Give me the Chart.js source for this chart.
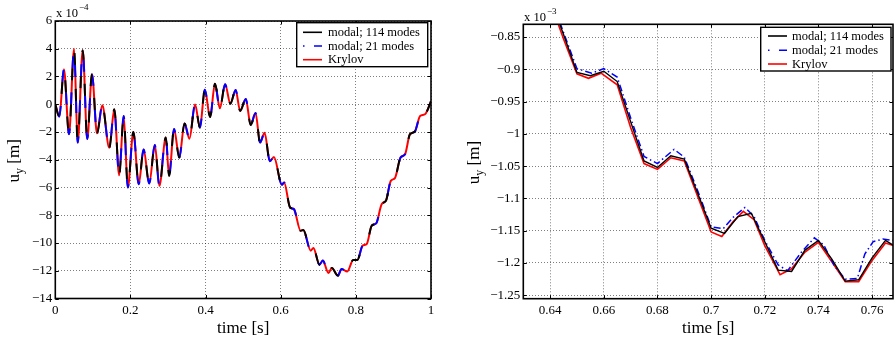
<!DOCTYPE html>
<html><head><meta charset="utf-8">
<script src="https://cdn.jsdelivr.net/npm/chart.js@4/dist/chart.umd.min.js"></script>
<style>
html,body{margin:0;padding:0;background:#fff;}
#wrap{position:relative;width:894px;height:342px;overflow:hidden;background:#fff;}
canvas{position:absolute;top:0;}
</style></head><body>
<div id="wrap">
<canvas id="cl" width="447" height="342" style="left:0px;width:447px;height:342px"></canvas>
<canvas id="cr" width="447" height="342" style="left:447px;width:447px;height:342px"></canvas>
</div>
<script>
// ---------- data (left panel, units of 1e-4 m) ----------
const leftTime = [0,0.0107,0.023,0.0365,0.050,0.0596,0.073,0.085,0.0977,0.111,0.125,0.1437,0.157,0.170,0.182,0.193,0.2077,0.222,0.235,0.250,0.265,0.277,0.294,0.303,0.316,0.330,0.344,0.357,0.372,0.385,0.398,0.412,0.425,0.438,0.452,0.466,0.480,0.492,0.507,0.520,0.533,0.545,0.557,0.571,0.582,0.603,0.609,0.625,0.635,0.653,0.660,0.680,0.687,0.703,0.712,0.727,0.736,0.752,0.762,0.777,0.793,0.804,0.818,0.829,0.842,0.854,0.869,0.880,0.893,0.904,0.919,0.931,0.944,0.957,0.971,0.984,1.0];
const leftModal114 = [0,-0.89,2.52,-2.16,4.0,-2.76,3.9,-2.5,2.16,-2.1,-0.08,-3.14,-0.36,-5.12,-0.84,-6.0,-2.0,-5.76,-3.27,-5.71,-2.94,-5.88,-2.4,-5.16,-1.78,-3.84,-1.38,-2.48,-0.02,-1.68,1.04,-0.92,1.48,-0.29,1.44,0.04,1.03,-0.48,0.38,-1.49,-0.63,-2.76,-2.05,-4.1,-3.8,-5.8,-5.64,-7.44,-7.56,-9.12,-9.07,-10.55,-10.36,-11.56,-11.27,-12.16,-11.8,-12.35,-11.87,-12.06,-11.22,-11.22,-10.19,-10.07,-8.76,-8.59,-7.19,-6.96,-5.52,-5.32,-3.84,-3.6,-2.16,-1.97,-0.84,-0.72,0.2];
const leftModal21 = [0,-0.89,2.52,-2.16,4.0,-2.76,3.9,-2.5,2.16,-2.1,-0.08,-3.14,-0.36,-5.12,-0.84,-6.0,-2.0,-5.76,-3.27,-5.71,-2.94,-5.88,-2.3,-5.16,-1.78,-3.84,-1.38,-2.48,-0.02,-1.68,1.04,-0.92,1.48,-0.29,1.44,0.04,1.03,-0.48,0.38,-1.49,-0.63,-2.76,-2.05,-4.1,-3.8,-5.8,-5.64,-7.44,-7.56,-9.12,-9.07,-10.55,-10.36,-11.56,-11.27,-12.16,-11.8,-12.35,-11.87,-12.06,-11.22,-11.22,-10.19,-10.07,-8.76,-8.59,-7.19,-6.96,-5.52,-5.32,-3.84,-3.6,-2.16,-1.97,-0.84,-0.72,0.2];
const leftKrylov = [0,-0.89,2.52,-2.16,4.0,-2.76,3.9,-2.5,2.16,-2.1,-0.08,-3.14,-0.36,-5.12,-0.84,-6.0,-2.0,-5.76,-3.27,-5.71,-2.94,-5.88,-2.4,-5.16,-1.78,-3.84,-1.38,-2.48,-0.02,-1.68,1.04,-0.92,1.48,-0.29,1.44,0.04,1.03,-0.48,0.38,-1.49,-0.63,-2.76,-2.05,-4.1,-3.8,-5.8,-5.64,-7.44,-7.56,-9.12,-9.07,-10.55,-10.36,-11.56,-11.27,-12.16,-11.8,-12.35,-11.87,-12.06,-11.22,-11.22,-10.19,-10.07,-8.76,-8.59,-7.19,-6.96,-5.52,-5.32,-3.84,-3.6,-2.16,-1.97,-0.84,-0.72,0.2];
const leftXTicks = [0,0.2,0.4,0.6,0.8,1];
const leftXLabels = ['0','0.2','0.4','0.6','0.8','1'];
const leftYTicks = [-14,-12,-10,-8,-6,-4,-2,0,2,4,6];
const leftYLabels = ['\u221214','\u221212','\u221210','\u22128','\u22126','\u22124','\u22122','0','2','4','6'];

// ---------- data (right panel, units of 1e-3 m) ----------
const rightTime114 = [0.640,0.645,0.650,0.655,0.660,0.665,0.670,0.675,0.680,0.685,0.690,0.695,0.700,0.705,0.710,0.715,0.720,0.725,0.730,0.735,0.740,0.745,0.750,0.755,0.760,0.765,0.770];
const rightModal114 = [-0.790,-0.846,-0.905,-0.910,-0.903,-0.919,-0.981,-1.042,-1.052,-1.034,-1.039,-1.092,-1.146,-1.154,-1.128,-1.123,-1.167,-1.211,-1.213,-1.180,-1.165,-1.194,-1.228,-1.226,-1.192,-1.165,-1.178];
const rightTime21 = [0.640,0.645,0.650,0.6555,0.660,0.665,0.670,0.675,0.680,0.6862,0.690,0.695,0.700,0.7045,0.7083,0.7126,0.716,0.720,0.725,0.7285,0.7337,0.7385,0.742,0.746,0.750,0.7545,0.7573,0.7604,0.764,0.770];
const rightModal21 = [-0.785,-0.843,-0.899,-0.906,-0.899,-0.912,-0.975,-1.035,-1.046,-1.024,-1.036,-1.088,-1.144,-1.147,-1.129,-1.114,-1.128,-1.165,-1.203,-1.212,-1.183,-1.161,-1.172,-1.205,-1.225,-1.224,-1.186,-1.167,-1.163,-1.166];
const rightTimeKrylov = [0.640,0.645,0.650,0.6543,0.659,0.665,0.670,0.675,0.680,0.685,0.690,0.695,0.700,0.704,0.708,0.712,0.716,0.720,0.7257,0.730,0.735,0.740,0.745,0.750,0.755,0.760,0.765,0.770];
const rightKrylov = [-0.795,-0.853,-0.907,-0.914,-0.906,-0.924,-0.990,-1.046,-1.055,-1.037,-1.042,-1.097,-1.152,-1.159,-1.137,-1.120,-1.133,-1.173,-1.218,-1.209,-1.183,-1.168,-1.198,-1.229,-1.229,-1.196,-1.169,-1.176];
const rightXTicks = [0.64,0.66,0.68,0.70,0.72,0.74,0.76];
const rightXLabels = ['0.64','0.66','0.68','0.7','0.72','0.74','0.76'];
const rightYTicks = [-1.25,-1.2,-1.15,-1.1,-1.05,-1,-0.95,-0.9,-0.85];
const rightYLabels = ['\u22121.25','\u22121.2','\u22121.15','\u22121.1','\u22121.05','\u22121','\u22120.95','\u22120.9','\u22120.85'];

const legendLabels = ['modal; 114 modes','modal; 21 modes','Krylov'];
const seriesColors = ['#000000','#0000ff','#ff0000'];

// ---------- styling ----------
const SERIF = '"Liberation Serif","Times New Roman",serif';
const GRID = 'rgba(0,0,0,0.5)';

function pts(xs, ys){ return xs.map((x,i)=>({x:x, y:ys[i]})); }

function drawYTitle(ctx, cx, cy){
  ctx.save(); ctx.translate(cx, cy); ctx.rotate(-Math.PI/2);
  const fBig = '17px ' + SERIF, fSub = '12px ' + SERIF;
  ctx.font = fBig; const wu = ctx.measureText('u').width; const wr = ctx.measureText(' [m]').width;
  ctx.font = fSub; const wy = ctx.measureText('y').width;
  let x = -(wu + wy + wr)/2;
  ctx.fillStyle = '#000'; ctx.textBaseline = 'alphabetic'; ctx.textAlign = 'left';
  ctx.font = fBig; ctx.fillText('u', x, 5); x += wu;
  ctx.font = fSub; ctx.fillText('y', x, 9); x += wy;
  ctx.font = fBig; ctx.fillText(' [m]', x, 5);
  ctx.restore();
}

function decoPlugin(o){
  return {
    id: 'deco',
    afterDraw(chart){
      const ctx = chart.ctx, a = chart.chartArea;
      const xs = chart.scales.x, ys = chart.scales.y;
      ctx.save();
      // inward ticks
      ctx.strokeStyle = '#000'; ctx.lineWidth = 1;
      ctx.beginPath();
      o.xTicks.forEach(v=>{ const p = Math.round(xs.getPixelForValue(v))+0.5;
        ctx.moveTo(p, a.bottom); ctx.lineTo(p, a.bottom-3.5);
        ctx.moveTo(p, a.top); ctx.lineTo(p, a.top+3.5); });
      o.yTicks.forEach(v=>{ const p = Math.round(ys.getPixelForValue(v))+0.5;
        ctx.moveTo(a.left, p); ctx.lineTo(a.left+3.5, p);
        ctx.moveTo(a.right, p); ctx.lineTo(a.right-3.5, p); });
      ctx.stroke();
      // box
      ctx.lineWidth = 1.6; ctx.strokeStyle = '#000';
      ctx.strokeRect(a.left, a.top, a.right-a.left, a.bottom-a.top);
      // legend
      const L = o.legend;
      ctx.fillStyle = '#fff';
      ctx.fillRect(L.x, L.y, L.w, L.h);
      ctx.lineWidth = 1.4; ctx.strokeStyle = '#000';
      ctx.strokeRect(L.x, L.y, L.w, L.h);
      legendLabels.forEach((t,i)=>{
        const yy = L.rows[i];
        ctx.strokeStyle = seriesColors[i]; ctx.lineWidth = 1.6;
        ctx.beginPath();
        if(i===1){
          ctx.moveTo(L.s0, yy); ctx.lineTo(L.s0+1.5, yy);
          ctx.moveTo(L.s0+11, yy); ctx.lineTo(L.s1, yy);
        } else { ctx.moveTo(L.s0, yy); ctx.lineTo(L.s1, yy); }
        ctx.stroke();
        ctx.fillStyle = '#000'; ctx.font = '12.5px ' + SERIF;
        ctx.textBaseline = 'middle'; ctx.textAlign = 'left';
        ctx.fillText(t, L.tx, yy+0.5);
      });
      // multiplier
      ctx.fillStyle = '#000'; ctx.textBaseline = 'alphabetic'; ctx.textAlign = 'left';
      ctx.font = '12.5px ' + SERIF;
      ctx.fillText('x 10', o.mult.x, o.mult.y);
      const w = ctx.measureText('x 10').width;
      ctx.font = '9px ' + SERIF;
      ctx.fillText(o.mult.exp, o.mult.x + w + 1, o.mult.y - 7);
      // x title
      ctx.font = '17px ' + SERIF; ctx.textAlign = 'center';
      ctx.fillText('time [s]', (a.left+a.right)/2, 333);
      // y title
      drawYTitle(ctx, o.yTitleX, (a.top+a.bottom)/2 + 1);
      ctx.restore();
    }
  };
}

function makeChart(id, cfg){
  const tickFont = {family: SERIF, size: 13};
  return new Chart(document.getElementById(id), {
    type: 'line',
    data: { datasets: cfg.datasets },
    options: {
      responsive: false, animation: false, devicePixelRatio: 1,
      layout: { padding: { left: 0, right: cfg.padRight, top: cfg.top, bottom: 0 } },
      plugins: { legend: { display: false }, tooltip: { enabled: false } },
      elements: { point: { radius: 0 } },
      scales: {
        x: {
          type: 'linear', min: cfg.xMin, max: cfg.xMax,
          afterBuildTicks: s => { s.ticks = cfg.xTicks.map(v => ({value: v})); },
          afterFit: s => { s.height = 342 - cfg.bottom; },
          ticks: { callback: (v, i) => cfg.xLabels[i], font: tickFont, color: '#000', padding: 4, maxRotation: 0, autoSkip: false },
          grid: { color: GRID, lineWidth: 1, drawTicks: false },
          border: { display: false, dash: [1, 2] }
        },
        y: {
          type: 'linear', min: cfg.yMin, max: cfg.yMax,
          afterBuildTicks: s => { s.ticks = cfg.yTicks.map(v => ({value: v})); },
          afterFit: s => { s.width = cfg.left; },
          ticks: { callback: (v, i) => cfg.yLabels[i], font: tickFont, color: '#000', padding: 3, autoSkip: false },
          grid: { color: GRID, lineWidth: 1, drawTicks: false },
          border: { display: false, dash: [1, 2] }
        }
      }
    },
    plugins: [decoPlugin(cfg.deco)]
  });
}

// left chart
makeChart('cl', {
  left: 55.3, padRight: 16, top: 21, bottom: 298.5,
  xMin: 0, xMax: 1, yMin: -14, yMax: 6,
  xTicks: leftXTicks, xLabels: leftXLabels, yTicks: leftYTicks, yLabels: leftYLabels,
  datasets: [
    { label: legendLabels[0], data: pts(leftTime, leftModal114), borderColor: seriesColors[0], borderWidth: 2, cubicInterpolationMode: 'monotone', borderDash: [12, 24], borderDashOffset: 0, fill: false },
    { label: legendLabels[1], data: pts(leftTime, leftModal21), borderColor: seriesColors[1], borderWidth: 2, cubicInterpolationMode: 'monotone', borderDash: [12, 24], borderDashOffset: 24, fill: false },
    { label: legendLabels[2], data: pts(leftTime, leftKrylov), borderColor: seriesColors[2], borderWidth: 2, cubicInterpolationMode: 'monotone', fill: false }
  ],
  deco: {
    xTicks: leftXTicks, yTicks: leftYTicks,
    legend: { x: 296.7, y: 22.7, w: 131, h: 44, rows: [32.3, 46, 59.7], s0: 303, s1: 322, tx: 328 },
    mult: { x: 56, y: 16.5, exp: '\u22124' },
    yTitleX: 14
  }
});

// right chart
makeChart('cr', {
  left: 76.3, padRight: 1, top: 24.3, bottom: 298.7,
  xMin: 0.63, xMax: 0.7678, yMin: -1.2553, yMax: -0.8303,
  xTicks: rightXTicks, xLabels: rightXLabels, yTicks: rightYTicks, yLabels: rightYLabels,
  datasets: [
    { label: legendLabels[0], data: pts(rightTime114, rightModal114), borderColor: seriesColors[0], borderWidth: 1.4, tension: 0, fill: false },
    { label: legendLabels[1], data: pts(rightTime21, rightModal21), borderColor: seriesColors[1], borderWidth: 1.5, tension: 0, borderDash: [7, 3, 1.5, 3], fill: false },
    { label: legendLabels[2], data: pts(rightTimeKrylov, rightKrylov), borderColor: seriesColors[2], borderWidth: 1.6, tension: 0, fill: false }
  ],
  deco: {
    xTicks: rightXTicks, yTicks: rightYTicks,
    legend: { x: 313.7, y: 27.3, w: 130.3, h: 43.7, rows: [36, 50.3, 64], s0: 321, s1: 340, tx: 345 },
    mult: { x: 77, y: 20.5, exp: '\u22123' },
    yTitleX: 27
  }
});
</script>
</body></html>
